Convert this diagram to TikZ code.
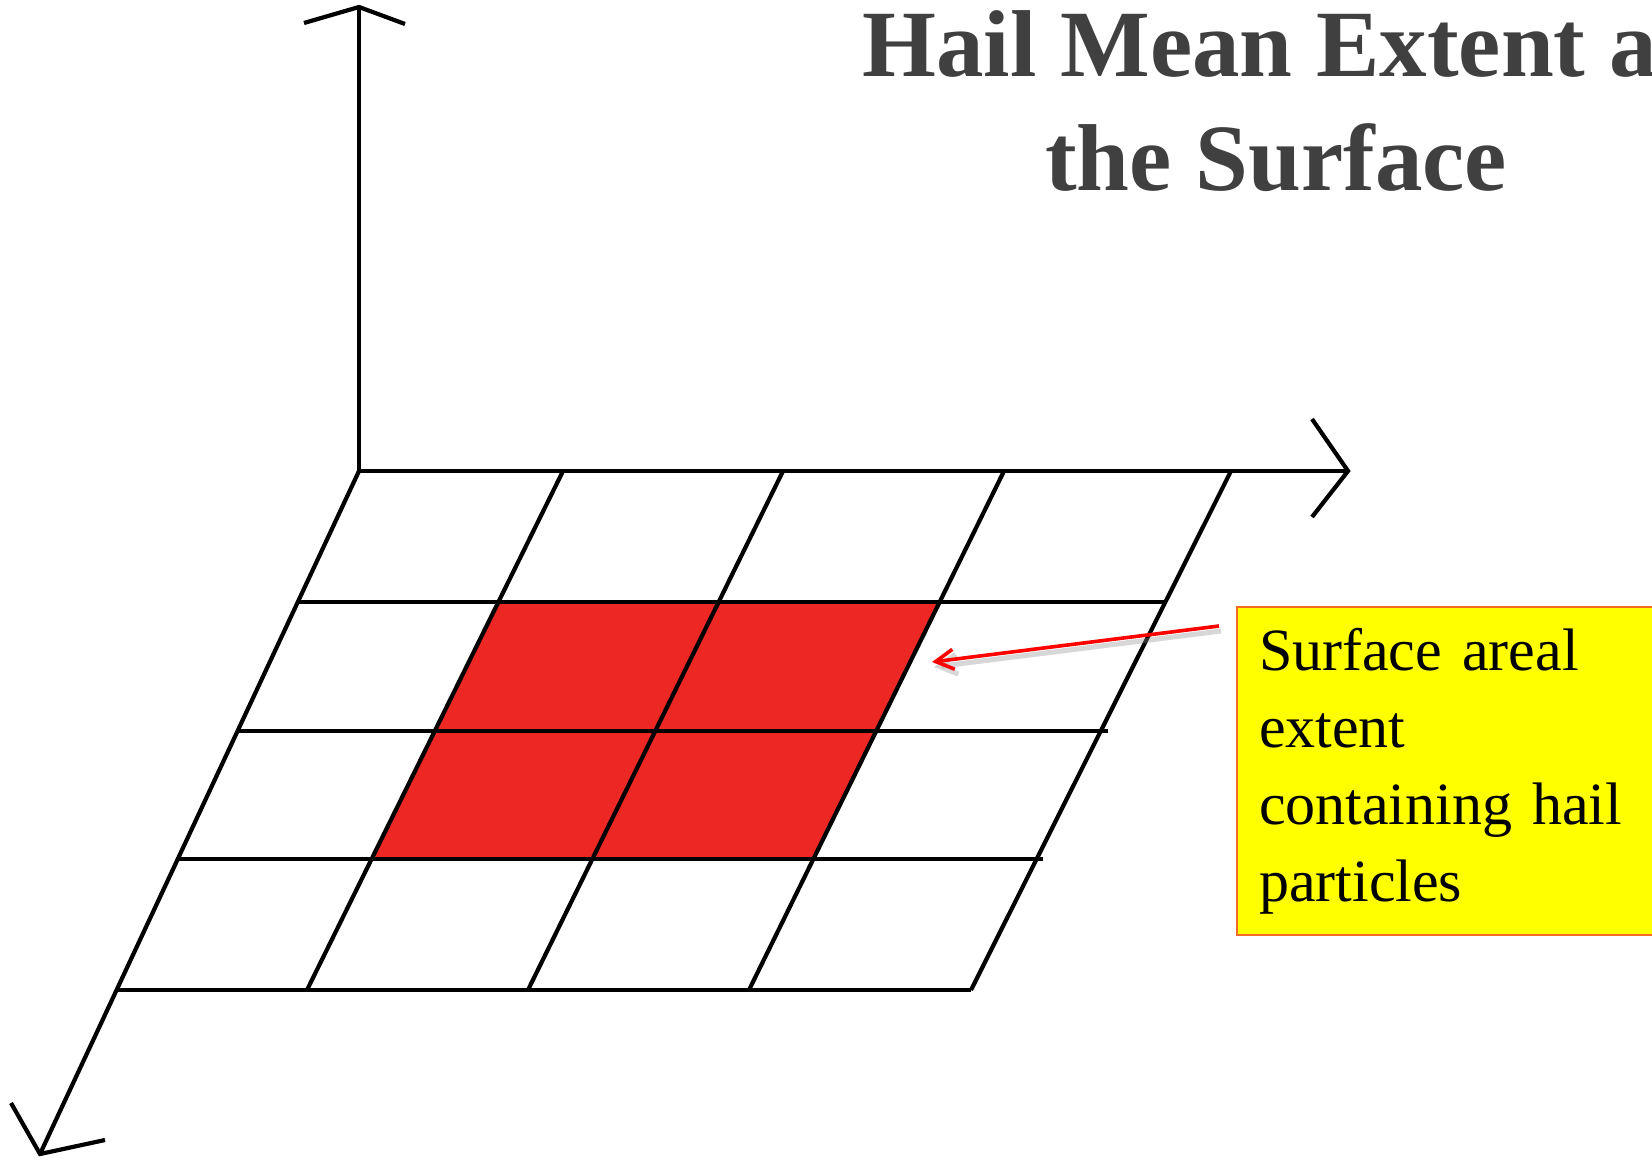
\documentclass[tikz,border=0pt]{standalone}
\usepackage{fontspec}
\setmainfont{Liberation Serif}
\usetikzlibrary{arrows.meta}
\definecolor{hailred}{RGB}{237,40,36}
\definecolor{titlegray}{RGB}{64,64,64}
\definecolor{calloutorange}{RGB}{242,108,36}
\definecolor{calloutyellow}{RGB}{255,255,0}

\begin{document}
\begin{tikzpicture}[
    x=0.5pt, y=-0.5pt,
    axis/.style={line width=2.1pt, line join=miter},
    gridline/.style={line width=2.1pt},
    cell/.style={fill=hailred},
    title/.style={font=\bfseries\fontsize{47.5pt}{57pt}\selectfont, text=titlegray, inner sep=0pt},
    callout/.style={draw=calloutorange, line width=1pt, fill=calloutyellow, text width=200pt, inner xsep=11pt, minimum height=164pt, align=left, font=\fontsize{30pt}{38.5pt}\selectfont},
    pointer/.style={draw=red, line width=1.8pt, -{Straight Barb[length=9pt, width=10pt]}},
    pointershadow/.style={draw=black!45, opacity=0.35, line width=2.5pt, -{Straight Barb[length=9pt, width=10pt]}, transform canvas={shift={(1pt,-2.5pt)}}}
]
  \useasboundingbox (0,0) rectangle (1652,1161);
  \clip (0,0) rectangle (1652,1161);

  % Hail cells
  \fill[cell] (498,602) -- (940,602) -- (814,859) -- (371,859) -- cycle;

  % Grid rows
  \draw[gridline] (299,602) -- (1167,602);
  \draw[gridline] (238,731) -- (1108,731);
  \draw[gridline] (176,859) -- (1043,859);
  \draw[gridline] (117,990) -- (971,990);

  % Grid columns
  \draw[gridline] (563,471) -- (307,990);
  \draw[gridline] (783,471) -- (528,990);
  \draw[gridline] (1004,471) -- (749,990);
  \draw[gridline] (1231,471) -- (971,990);

  % Axes
  \draw[axis] (359,471) -- (359,7);
  \draw[axis] (304,23) -- (359,7) -- (405,24);
  \draw[axis] (359,471) -- (1348,471);
  \draw[axis] (1312,419) -- (1348,471) -- (1312,517);
  \draw[axis] (359,471) -- (40,1154);
  \draw[axis] (11,1103) -- (40,1154) -- (105,1140);

  % Title
  \node (titletop) [title, anchor=base west] at (862,76) {Hail Mean Extent a};
  \node (titlebottom) [title, anchor=base] at (1276,190) {the Surface};

  % Callout
  \node (callout) [callout, anchor=north west] at (1236,606) {Surface areal\\extent\\containing hail\\particles};
  \coordinate (tail) at (1219,626);
  \coordinate (tip) at (932,662);
  \draw[pointershadow] (tail) -- (tip);
  \draw[pointer] (tail) -- (tip);
\end{tikzpicture}
\end{document}
